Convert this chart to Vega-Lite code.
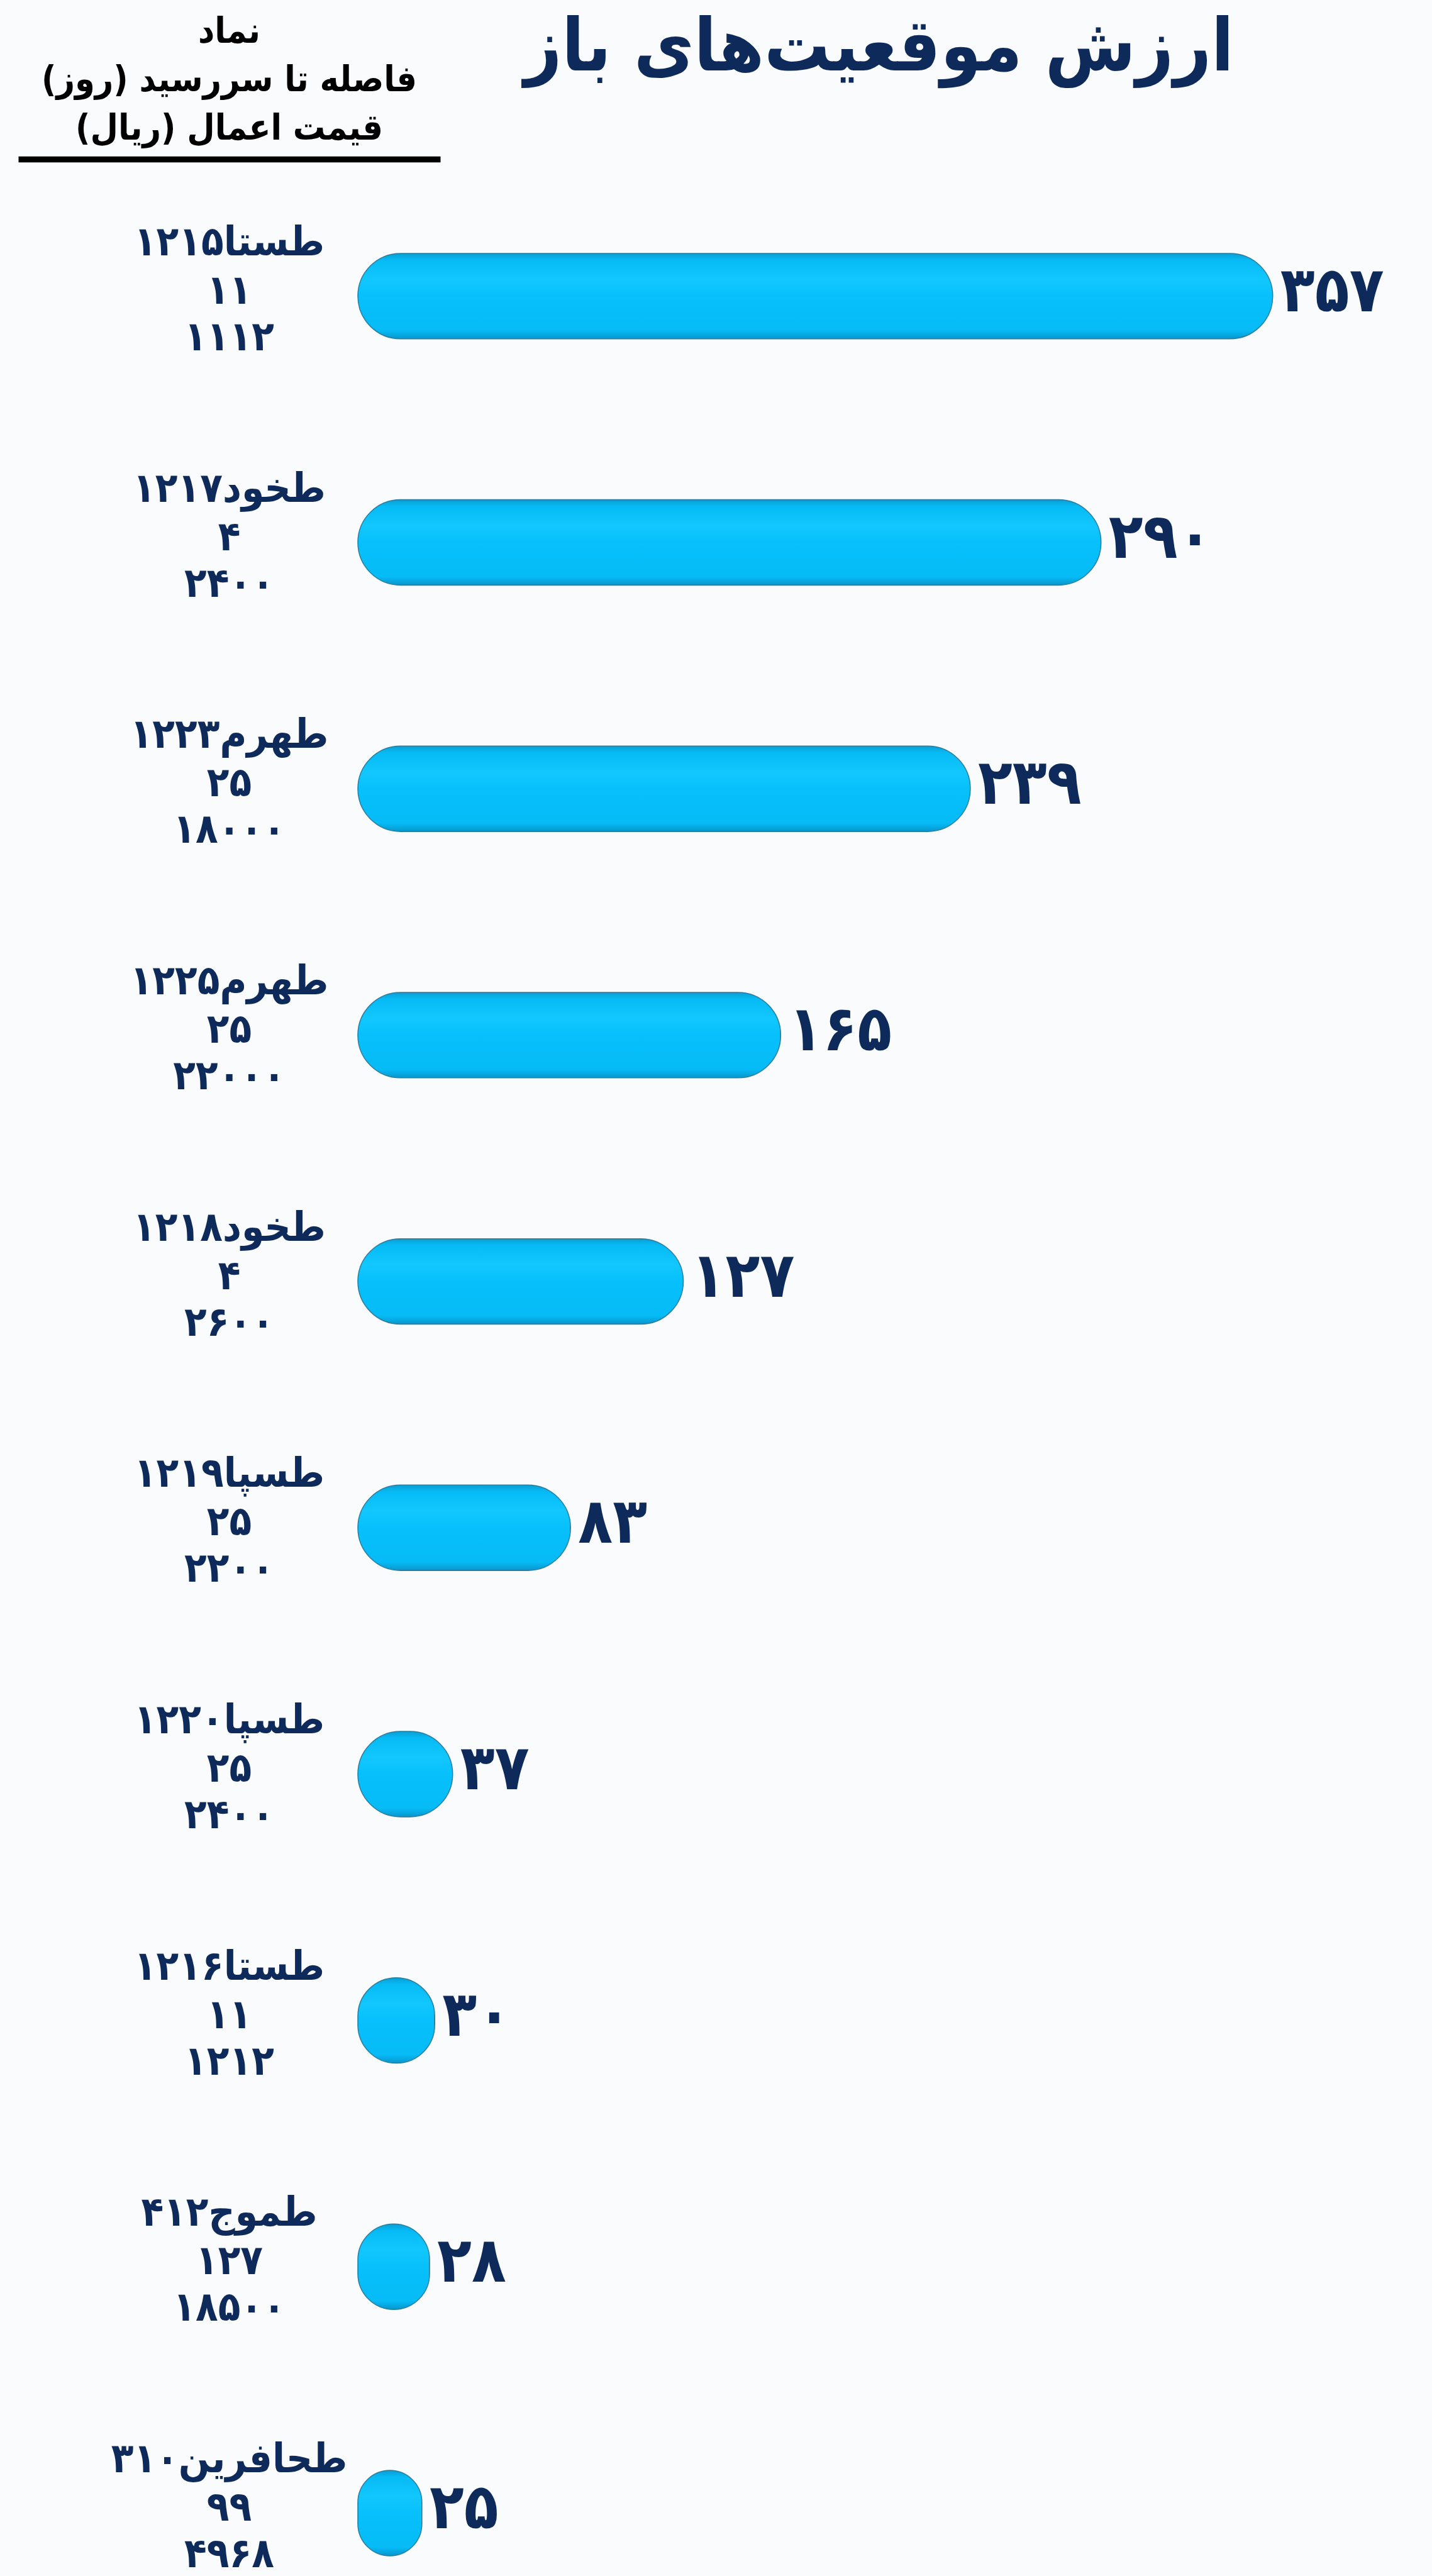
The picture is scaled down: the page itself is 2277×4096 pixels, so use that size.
{
  "$schema": "https://vega.github.io/schema/vega-lite/v6.json",
  "background": "#FAFBFD",
  "padding": {"left": 29, "top": 19, "right": 78, "bottom": 0},
  "autosize": {"type": "pad"},
  "config": {
    "view": {"stroke": null},
    "font": "DejaVu Sans Condensed",
    "locale": {
      "number": {
        "decimal": "٫",
        "thousands": "٬",
        "grouping": [3],
        "currency": ["", ""],
        "numerals": ["۰", "۱", "۲", "۳", "۴", "۵", "۶", "۷", "۸", "۹"]
      }
    }
  },
  "data": {
    "values": [
      {"symbol": "طستا۱۲۱۵", "days": "۱۱", "strike": "۱۱۱۲", "value": 357},
      {"symbol": "طخود۱۲۱۷", "days": "۴", "strike": "۲۴۰۰", "value": 290},
      {"symbol": "طهرم۱۲۲۳", "days": "۲۵", "strike": "۱۸۰۰۰", "value": 239},
      {"symbol": "طهرم۱۲۲۵", "days": "۲۵", "strike": "۲۲۰۰۰", "value": 165},
      {"symbol": "طخود۱۲۱۸", "days": "۴", "strike": "۲۶۰۰", "value": 127},
      {"symbol": "طسپا۱۲۱۹", "days": "۲۵", "strike": "۲۲۰۰", "value": 83},
      {"symbol": "طسپا۱۲۲۰", "days": "۲۵", "strike": "۲۴۰۰", "value": 37},
      {"symbol": "طستا۱۲۱۶", "days": "۱۱", "strike": "۱۲۱۲", "value": 30},
      {"symbol": "طموج۴۱۲", "days": "۱۲۷", "strike": "۱۸۵۰۰", "value": 28},
      {"symbol": "طحافرین۳۱۰", "days": "۹۹", "strike": "۴۹۶۸", "value": 25}
    ]
  },
  "spacing": 0,
  "bounds": "flush",
  "hconcat": [
    {
      "width": 671,
      "height": 3824,
      "title": {
        "text": ["نماد", "فاصله تا سررسید (روز)\u200f", "قیمت اعمال (ریال)\u200f"],
        "fontSize": 57,
        "lineHeight": 77,
        "color": "#000000",
        "fontWeight": "bold",
        "anchor": "middle",
        "baseline": "bottom",
        "offset": -38
      },
      "encoding": {
        "y": {
          "field": "symbol",
          "type": "nominal",
          "sort": null,
          "scale": {"type": "band", "paddingInner": 0.653, "paddingOuter": 0.208, "align": 0.92},
          "axis": null
        },
        "x": {
          "datum": 0,
          "type": "quantitative",
          "scale": {"domain": [-1, 1]},
          "axis": {
            "orient": "top",
            "domain": true,
            "domainWidth": 9.5,
            "domainColor": "#000000",
            "ticks": false,
            "labels": false,
            "grid": false,
            "title": null
          }
        }
      },
      "layer": [
        {
          "mark": {"type": "text", "dy": -85, "fontSize": 65, "fontWeight": "bold", "color": "#0D2A5A", "baseline": "middle", "align": "center"},
          "encoding": {"text": {"field": "symbol"}}
        },
        {
          "mark": {"type": "text", "dy": -8, "fontSize": 65, "fontWeight": "bold", "color": "#0D2A5A", "baseline": "middle", "align": "center"},
          "encoding": {"text": {"field": "days"}}
        },
        {
          "mark": {"type": "text", "dy": 66, "fontSize": 65, "fontWeight": "bold", "color": "#0D2A5A", "baseline": "middle", "align": "center"},
          "encoding": {"text": {"field": "strike"}}
        }
      ]
    },
    {
      "width": 1499,
      "height": 3824,
      "title": {
        "text": "ارزش موقعیت‌های باز",
        "fontSize": 116,
        "color": "#0D2A5A",
        "fontWeight": "bold",
        "anchor": "middle",
        "baseline": "bottom",
        "offset": 7,
        "dx": -52,
        "dy": 6
      },
      "encoding": {
        "y": {
          "field": "symbol",
          "type": "nominal",
          "sort": null,
          "scale": {"type": "band", "paddingInner": 0.653, "paddingOuter": 0.208, "align": 0.92},
          "axis": null
        },
        "x": {
          "field": "value",
          "type": "quantitative",
          "scale": {"domain": [0, 400], "nice": false, "range": [-131, 1499]},
          "axis": null
        }
      },
      "layer": [
        {
          "mark": {
            "type": "bar",
            "cornerRadius": 68,
            "stroke": "#2B7D9E",
            "strokeWidth": 1.5,
            "fill": {
              "gradient": "linear",
              "x1": 0, "y1": 0, "x2": 0, "y2": 1,
              "stops": [
                {"offset": 0, "color": "#0A9ED3"},
                {"offset": 0.08, "color": "#06BBF5"},
                {"offset": 0.3, "color": "#12C7FD"},
                {"offset": 0.5, "color": "#07C0FC"},
                {"offset": 0.9, "color": "#06BBF6"},
                {"offset": 1, "color": "#0896CC"}
              ]
            }
          }
        },
        {
          "mark": {"type": "text", "align": "left", "baseline": "middle", "dx": 12, "dy": -6, "fontSize": 100, "fontWeight": "bold", "color": "#0D2A5A"},
          "encoding": {"text": {"field": "value", "type": "quantitative", "format": "d"}}
        }
      ]
    }
  ]
}
